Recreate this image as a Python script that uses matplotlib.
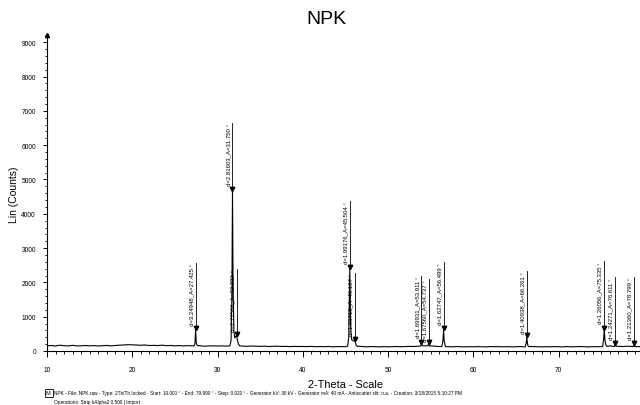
import matplotlib
matplotlib.use("Agg")
import matplotlib.pyplot as plt
import numpy as np
from matplotlib.ticker import MultipleLocator
from matplotlib.patches import Rectangle

plt.rcParams['font.family'] = ['Liberation Sans', 'DejaVu Sans']

# baseline read every 0.5 deg from 10 to 80
base_theta = np.arange(10, 80.01, 0.5)
base_counts = [150, 160, 145, 170, 155, 150, 165, 148, 152, 160,
               150, 158, 146, 155, 162, 150, 160, 170, 175, 185,
               180, 172, 168, 175, 160, 165, 158, 170, 155, 162,
               150, 158, 148, 155, 150, 145, 152, 140, 148, 150,
               145, 150, 142, 148, 150, 145, 140, 138, 145, 140,
               135, 142, 130, 138, 140, 132, 136, 128, 135, 130,
               132, 128, 135, 125, 130, 126, 132, 122, 128, 130,
               125, 130, 135, 140, 128, 122, 130, 125, 120, 128,
               122, 126, 130, 124, 128, 135, 130, 140, 135, 150,
               150, 140, 130, 135, 128, 122, 130, 125, 120, 126,
               122, 128, 125, 120, 130, 124, 128, 122, 126, 120,
               125, 130, 118, 128, 130, 124, 120, 126, 122, 128,
               124, 120, 128, 122, 126, 130, 125, 120, 128, 124,
               130, 140, 150, 145, 138, 130, 140, 135, 128, 130,
               125]

# peak profiles (2-theta, counts)
peaks = [
    [(27.25, 150), (27.35, 230), (27.425, 600), (27.5, 240), (27.62, 160)],
    [(31.45, 150), (31.58, 300), (31.68, 1600), (31.75, 4650), (31.82, 1800),
     (31.92, 560), (32.02, 380), (32.12, 430), (32.232, 440), (32.32, 330),
     (32.45, 200), (32.6, 150)],
    [(45.25, 140), (45.38, 400), (45.504, 2400), (45.6, 700), (45.72, 330),
     (45.9, 300), (46.107, 290), (46.25, 170), (46.4, 130)],
    [(53.8, 140), (53.911, 200), (54.05, 150)],
    [(54.6, 150), (54.737, 190), (54.85, 140)],
    [(56.3, 130), (56.42, 300), (56.499, 600), (56.58, 280), (56.72, 130)],
    [(66.08, 125), (66.18, 220), (66.261, 400), (66.34, 210), (66.45, 125)],
    [(75.15, 130), (75.26, 330), (75.335, 620), (75.42, 320), (75.55, 160), (75.7, 135)],
    [(76.5, 130), (76.611, 170), (76.72, 135)],
    [(78.7, 130), (78.799, 165), (78.9, 130)],
]

# peak labels
lab_theta = [27.425, 31.750, 32.232, 45.504, 46.107, 53.911, 54.737,
             56.499, 66.261, 75.335, 76.611, 78.799]
lab_d = ['3.24948', '2.81603', '2.77506', '1.99176', '1.96710', '1.69931',
         '1.67560', '1.62747', '1.40938', '1.26056', '1.24271', '1.21360']
lab_top = [2570, 6650, 2390, 4370, 2270, 2190, 2100, 2600, 2330, 2620, 2150, 2150]

footer1 = ("NPK - File: NPK.raw - Type: 2Th/Th locked - Start: 10.000 ° - End: 79.990 ° - "
           "Step: 0.020 ° - Generator kV: 30 kV - Generator mA: 40 mA - Antiscatter slit: n.a. - "
           "Creation: 3/18/2015 5:10:27 PM")
footer2 = "Operations: Strip kAlpha2 0.500 | Import"

# merge baseline with peaks
pts = []
for t, c in zip(base_theta, base_counts):
    if not any(p[0][0] <= t <= p[-1][0] for p in peaks):
        pts.append((t, c))
for p in peaks:
    pts.extend(p)
pts.sort()
theta = np.array([p[0] for p in pts])
counts = np.array([p[1] for p in pts])

fig = plt.figure(figsize=(6.4, 4.06), dpi=100)
ax = fig.add_axes([47 / 640, 54 / 406, 597 / 640, 315.6 / 406])

ax.plot(theta, counts, color='black', lw=0.8)

for t, d, top in zip(lab_theta, lab_d, lab_top):
    y0 = np.interp(t, theta, counts)
    ax.plot([t, t], [y0, top], color='black', lw=0.6)
    ax.plot(t, y0 + 60, marker='v', color='black', ms=3.2)
    ax.annotate(f"d={d}_A={t:.3f} °", xy=(t, top), xytext=(-1.2, 0),
                textcoords='offset points', rotation=90, ha='right', va='top',
                fontsize=4.3)

ax.set_xlim(10, 80)
ax.set_ylim(0, 9200)
ax.spines['top'].set_visible(False)
ax.spines['right'].set_visible(False)
ax.spines['left'].set_linewidth(0.8)
ax.spines['bottom'].set_linewidth(0.8)
ax.plot(0, 1, marker='^', color='black', ms=3, transform=ax.transAxes, clip_on=False)

ax.set_xticks(range(10, 80, 10))
ax.xaxis.set_minor_locator(MultipleLocator(1))
ax.yaxis.set_major_locator(MultipleLocator(1000))
ax.yaxis.set_minor_locator(MultipleLocator(200))
ax.tick_params(axis='x', which='major', length=4, width=0.7, pad=7, labelsize=4.8)
ax.tick_params(axis='x', which='minor', length=2.5, width=0.6)
ax.tick_params(axis='y', which='major', length=3, width=0.7, pad=5, labelsize=4.8)
ax.tick_params(axis='y', which='minor', length=1.8, width=0.6)

ax.set_xlabel("2-Theta - Scale", fontsize=7.8, labelpad=4)
fig.text(14 / 640, 1 - 195 / 406, "Lin (Counts)", rotation=90, fontsize=7.5,
         ha='center', va='center')
fig.text(0.51, 1 - 20 / 406, "NPK", fontsize=14, ha='center', va='center')

fig.patches.append(Rectangle((45 / 640, 1 - 398 / 406), 8 / 640, 8 / 406,
                             transform=fig.transFigure, fill=False, lw=0.6,
                             edgecolor='black'))
fig.text(46 / 640, 1 - 394 / 406, "M", fontsize=4, ha='left', va='center')
fig.text(54 / 640, 1 - 394 / 406, footer1, fontsize=3.4, ha='left', va='center')
fig.text(54 / 640, 1 - 403 / 406, footer2, fontsize=3.4, ha='left', va='center')

fig.savefig("out.png", dpi=100)
